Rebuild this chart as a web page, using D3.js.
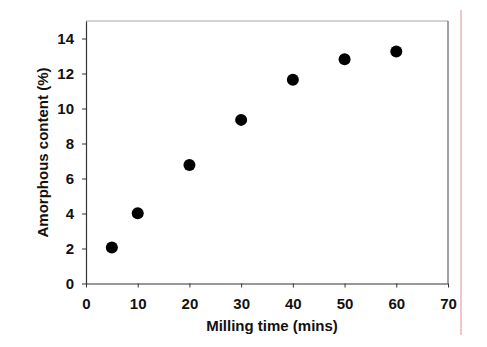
<!DOCTYPE html>
<html><head><meta charset="utf-8">
<script src="https://cdn.jsdelivr.net/npm/d3@7"></script>
<style>body{margin:0;background:#fff}svg{display:block}text{font-family:"Liberation Sans",Arial,sans-serif;font-weight:bold;fill:#111}</style>
</head><body><svg id="c" width="487" height="347"></svg>
<script>
const millingTime = [5, 10, 20, 30, 40, 50, 60];
const amorphous = [2.06, 4.02, 6.77, 9.35, 11.64, 12.82, 13.26];
const xTicks = [0, 10, 20, 30, 40, 50, 60, 70];
const yTicks = [0, 2, 4, 6, 8, 10, 12, 14];

const svg = d3.select("#c");
const m = {l: 86, r: 448, t: 21, b: 283.5};
const x = d3.scaleLinear().domain([0, 70]).range([m.l, m.r]);
const y = d3.scaleLinear().domain([0, 15]).range([m.b, m.t]);
const FS = 15;

svg.append("line").attr("x1", m.l).attr("x2", m.r).attr("y1", m.t).attr("y2", m.t).attr("stroke", "#aaa").attr("stroke-width", 1.2);
svg.append("line").attr("x1", m.r).attr("x2", m.r).attr("y1", m.t).attr("y2", m.b).attr("stroke", "#444").attr("stroke-width", 1);

const xa = svg.append("g").attr("transform", `translate(0,${m.b})`)
  .call(d3.axisBottom(x).tickValues(xTicks).tickSize(4).tickPadding(11).tickSizeOuter(0));
const ya = svg.append("g").attr("transform", `translate(${m.l},0)`)
  .call(d3.axisLeft(y).tickValues(yTicks).tickSize(4).tickPadding(8).tickSizeOuter(0));
[xa, ya].forEach(a => {
  a.attr("font-size", FS).attr("font-family", '"Liberation Sans",Arial,sans-serif');
  a.select(".domain").attr("stroke", "#333").attr("stroke-width", 1.2);
  a.selectAll(".tick line").attr("stroke", "#333");
  a.selectAll("text").style("font-size", FS + "px").style("font-weight", "bold").attr("fill", "#111");
});

svg.append("g").selectAll("circle").data(millingTime).join("circle")
  .attr("cx", (d) => x(d)).attr("cy", (d, i) => y(amorphous[i])).attr("r", 6).attr("fill", "#000");

svg.append("text").attr("x", 272).attr("y", 331).attr("text-anchor", "middle").style("font-size", FS + "px").text("Milling time (mins)");
svg.append("text").attr("transform", "translate(48,152.5) rotate(-90)").attr("text-anchor", "middle").style("font-size", FS + "px").text("Amorphous content (%)");

svg.append("line").attr("x1", 461).attr("x2", 461).attr("y1", 10).attr("y2", 335).attr("stroke", "#e8b5bb").attr("stroke-width", 1.5);
</script></body></html>
